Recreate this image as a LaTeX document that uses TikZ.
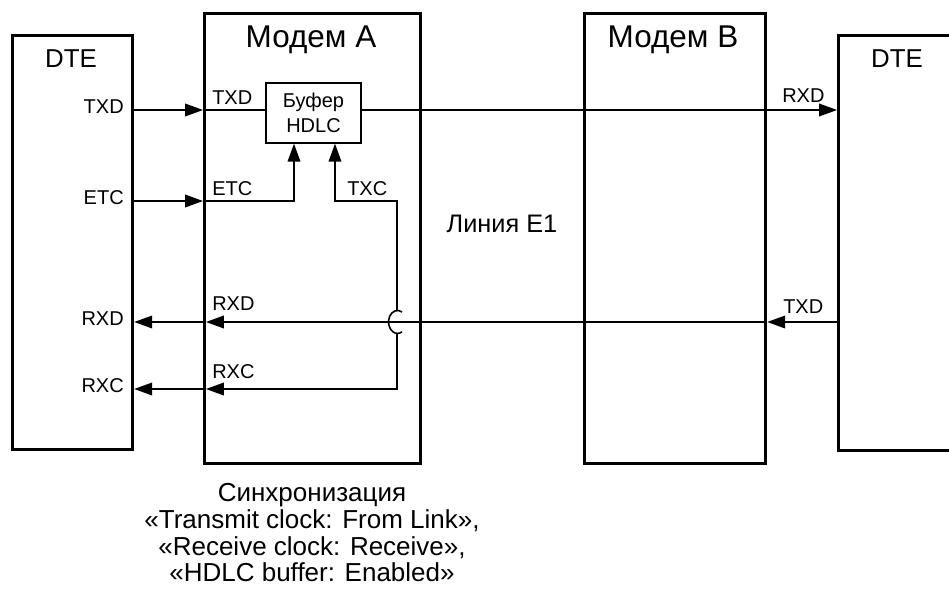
\documentclass[tikz,border=0pt]{standalone}
\usepackage{fontspec}
\setmainfont{Liberation Sans}
\usetikzlibrary{arrows.meta,calc}
\tikzset{
  unit/.style={draw,line width=2.4pt,anchor=north west,inner sep=0pt},
  sig/.style={line width=1.2pt},
  pin/.style={font=\fontsize{15}{18}\selectfont,inner sep=0pt},
  ttl/.style={font=\fontsize{#1}{#1}\selectfont,inner sep=0pt},
  inner/.style={shorten >=2.2pt},
}
\begin{document}
\begin{tikzpicture}[x=0.75pt,y=-0.75pt,>={Triangle[length=13.5pt,width=9.5pt]}]
  \useasboundingbox (0,0) rectangle (949,604);
  \clip (0,0) rectangle (949,604);
  % boxes
  \node[unit,minimum width=90pt,minimum height=310.5pt] (dteA) at (11,34) {};
  \node[unit,minimum width=162pt,minimum height=337.5pt] (modA) at (203,12) {};
  \node[unit,minimum width=135.75pt,minimum height=337.5pt] (modB) at (583,12) {};
  \node[unit,minimum width=112.5pt,minimum height=311.25pt] (dteB) at (837,34) {};
  \node[draw,line width=1pt,minimum width=71.25pt,minimum height=45pt,align=center,
        font=\fontsize{15}{19}\selectfont] (buf) at (313.5,113) {Буфер\\HDLC};
  \node[ttl=19.4] (dteAt) at (71,59) {DTE};
  \node[ttl=23.6] (modAt) at (311,40) {Модем A};
  \node[ttl=23.6] (modBt) at (673,40) {Модем B};
  \node[ttl=19.4] (dteBt) at (897,59) {DTE};
  % signal rows
  \coordinate (rTXD) at (0,110);
  \coordinate (rETC) at (0,201);
  \coordinate (rRXD) at (0,322);
  \coordinate (rRXC) at (0,389);
  \coordinate (cx) at (397,0);
  \node[pin,anchor=mid east] (pTXD) at (124,110) {TXD};
  \node[pin,anchor=mid east] (pETC) at (124,201) {ETC};
  \node[pin,anchor=mid east] (pRXD) at (124,322) {RXD};
  \node[pin,anchor=mid east] (pRXC) at (124,389) {RXC};
  \node[pin,anchor=base west] (mTXD) at (212,104) {TXD};
  \node[pin,anchor=base west] (mETC) at (212,195) {ETC};
  \node[pin,anchor=base west] (mTXC) at (347,195) {TXC};
  \node[pin,anchor=base west] (mRXD) at (212,310) {RXD};
  \node[pin,anchor=base west] (mRXC) at (212,378) {RXC};
  \node[pin,anchor=base west] (bRXD) at (782,102) {RXD};
  \node[pin,anchor=base west] (bTXD) at (783,313) {TXD};
  \node[ttl=19,anchor=base] (line) at (502,232) {Линия E1};
  \node[font=\fontsize{19.5}{20}\selectfont,align=center,anchor=north] (sync) at (312,479)
    {Синхронизация\\«Transmit clock: From Link»,\\«Receive clock: Receive»,\\«HDLC buffer: Enabled»};
  % transmit
  \draw[sig,->] (dteA.east |- rTXD) -- (modA.west |- rTXD);
  \draw[sig] (modA.west |- rTXD) -- (buf.west |- rTXD);
  \draw[sig,->] (buf.east |- rTXD) -- (dteB.west |- rTXD);
  \draw[sig,->] (dteA.east |- rETC) -- (modA.west |- rETC);
  \draw[sig,->] (modA.west |- rETC) -| ($(buf.south)+(-19.5,0)$);
  % receive
  \draw[sig,->] (dteB.west |- rRXD) -- (modB.east |- rRXD);
  \draw[sig,->,inner] (modB.east |- rRXD) -- (modA.west |- rRXD);
  \draw[sig,->] (modA.west |- rRXD) -- (dteA.east |- rRXD);
  \draw[sig,->,inner] ($(cx |- rRXD)+(0,11.5)$) -- (cx |- rRXC) -- (modA.west |- rRXC);
  \draw[sig,->] (modA.west |- rRXC) -- (dteA.east |- rRXC);
  \draw[sig,->] ($(cx |- rRXD)+(0,-11.5)$) -- (cx |- rETC) -| ($(buf.south)+(21.5,0)$);
  \draw[sig] ($(cx |- rRXD)+(5,-10)$) arc[start angle=60,end angle=300,x radius=6.75pt,y radius=8.6pt];
\end{tikzpicture}
\end{document}
